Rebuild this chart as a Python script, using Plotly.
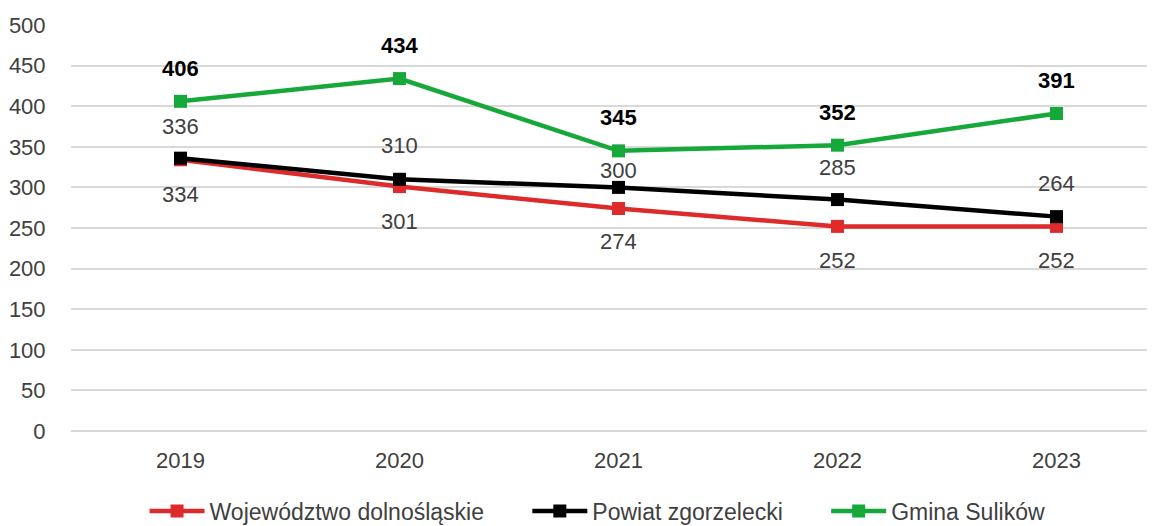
import plotly.graph_objects as go

# dane
lata = ['2019', '2020', '2021', '2022', '2023']
wojewodztwo = [334, 301, 274, 252, 252]
powiat = [336, 310, 300, 285, 264]
gmina = [406, 434, 345, 352, 391]

nazwy = ['Województwo dolnośląskie', 'Powiat zgorzelecki', 'Gmina Sulików']
kolory = ['#DD2A2A', '#000000', '#17A83A']

# przesunięcia etykiet (px) - jak w oryginale
przes_woj = [-35, -35, -33, -34, -34]
przes_pow = [32, 34, 17, 32, 33]
przes_gm = [33, 33, 33, 33, 33]

FONT = 'Liberation Sans, Arial, sans-serif'
ODSTEP = '\u00a0' * 6  # odstęp między pozycjami legendy

fig = go.Figure()

for j, (nazwa, dane, kolor) in enumerate(zip(nazwy, [wojewodztwo, powiat, gmina], kolory)):
    fig.add_trace(go.Scatter(
        x=lata, y=dane, name=nazwa + (ODSTEP if j < 2 else ''), mode='lines+markers',
        line=dict(color=kolor, width=4.5),
        marker=dict(symbol='square', size=13, color=kolor),
    ))

# etykiety danych
for dane, przes, bold in [(wojewodztwo, przes_woj, False),
                          (powiat, przes_pow, False),
                          (gmina, przes_gm, True)]:
    for i, (v, dy) in enumerate(zip(dane, przes)):
        fig.add_annotation(
            x=i, y=v, xref='x', yref='y', yshift=dy,
            text=f'<b>{v}</b>' if bold else str(v),
            showarrow=False,
            font=dict(family=FONT, size=22, color='#000000' if bold else '#404040'),
        )

# strona ma 8px marginesu body - stąd przesunięte marginesy
fig.update_layout(
    width=1155, height=526,
    margin=dict(l=63, r=13, t=17, b=103, autoexpand=False),
    plot_bgcolor='white', paper_bgcolor='white',
    font=dict(family=FONT, size=22, color='#404040'),
    showlegend=True,
    legend=dict(orientation='h', x=0.488, y=-0.197, xanchor='center', yanchor='middle',
                font=dict(family=FONT, size=23, color='#404040'),
                itemwidth=55, tracegroupgap=0),
    xaxis=dict(type='category', range=[-0.5, 4.427], showgrid=False, showline=False,
               ticks='outside', ticklen=10, tickcolor='rgba(0,0,0,0)',
               tickfont=dict(family=FONT, size=22, color='#404040')),
    yaxis=dict(range=[0, 500], dtick=50, showgrid=True, gridcolor='#D9D9D9', gridwidth=2,
               zeroline=True, zerolinecolor='#D9D9D9', zerolinewidth=2,
               showline=False, ticks='outside', ticklen=20, tickcolor='rgba(0,0,0,0)',
               tickfont=dict(family=FONT, size=22, color='#404040')),
)

fig.write_html('out.html')
